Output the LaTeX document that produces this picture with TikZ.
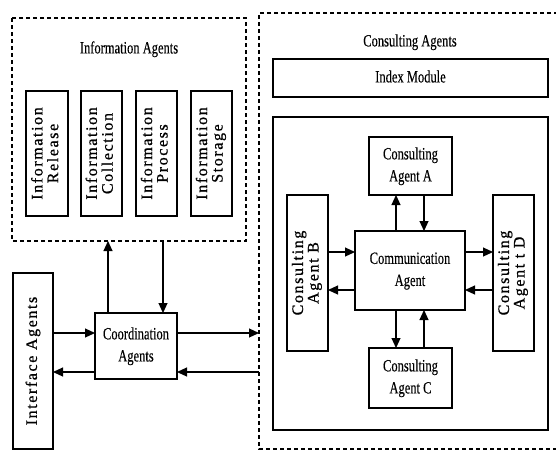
\documentclass[tikz,border=0pt]{standalone}
\usepackage{fontspec}
\setmainfont{Liberation Serif}
\usetikzlibrary{arrows.meta}
\newcommand\tl[1]{\scalebox{1}[1.38]{\begin{tabular}{@{}c@{}}#1\end{tabular}}}
\newcommand\rt[1]{\begin{tabular}{@{}c@{}}#1\end{tabular}}
\begin{document}
\begin{tikzpicture}[x=1pt,y=-1pt,
 box/.style={draw,line width=1.2pt,inner sep=0pt,outer sep=0pt},
 tall/.style={font=\fontsize{12.5}{16}\selectfont\addfontfeature{FakeBold=0.3},inner sep=0pt},
 sp/.style={font=\fontsize{16}{15.5}\selectfont\addfontfeature{LetterSpace=10,FakeBold=0.8},rotate=90,inner sep=0pt},
 arr/.style={line width=1.1pt,-{Triangle[length=10pt,width=9pt]}},
 dsh/.style={line width=1.2pt,dash pattern=on 4pt off 3pt}]
\useasboundingbox (0,0) rectangle (556,451);
% Information agents
\draw[dsh] (12,18) rectangle (246,241);
\coordinate (infoS) at (136,241);
\node[tall] (infoT) at (129,49) {\tl{Information Agents}};
\node[box,minimum width=42pt,minimum height=125pt] (rel) at (47,153.5) {};
\node[box,minimum width=41pt,minimum height=125pt] (col) at (101.5,153.5) {};
\node[box,minimum width=41pt,minimum height=125pt] (pro) at (156.5,153.5) {};
\node[box,minimum width=41pt,minimum height=125pt] (sto) at (211.5,153.5) {};
\node[sp] at (rel) {\rt{Information\\Release}};
\node[sp] at (col) {\rt{Information\\Collection}};
\node[sp] at (pro) {\rt{Information\\Process}};
\node[sp] at (sto) {\rt{Information\\Storage}};
% Consulting agents
\draw[dsh] (558,13) -- (259,13) -- (259,449) -- (558,449);
\coordinate (consW) at (259,360);
\node[tall] (consT) at (410,42) {\tl{Consulting Agents}};
\node[box,minimum width=275pt,minimum height=38pt] (idx) at (410.5,78) {};
\node[tall] at (idx) {\tl{Index Module}};
\node[box,minimum width=275pt,minimum height=313pt] (big) at (410.5,273.5) {};
\node[box,minimum width=83pt,minimum height=58pt] (A) at (410.5,166) {};
\node[tall] at (A) {\tl{Consulting\\Agent A}};
\node[box,minimum width=83pt,minimum height=60pt] (C) at (410.5,378) {};
\node[tall] at (C) {\tl{Consulting\\Agent C}};
\node[box,minimum width=110pt,minimum height=79pt] (comm) at (410,270.5) {};
\node[tall] at (comm) {\tl{Communication\\Agent}};
\node[box,minimum width=41pt,minimum height=156pt] (B) at (307.5,273) {};
\node[sp] at (B) {\rt{Consulting\\Agent B}};
\node[box,minimum width=41pt,minimum height=156pt] (D) at (513.5,273) {};
\node[sp] at (D) {\rt{Consulting\\Agent t D}};
% Interface and coordination
\node[box,minimum width=40pt,minimum height=176pt] (intf) at (33,361) {};
\node[sp] at (intf) {Interface Agents};
\node[box,minimum width=82pt,minimum height=66pt] (coord) at (136,346) {};
\node[tall] at (coord) {\tl{Coordination\\Agents}};
% arrows inside consulting
\draw[arr] (comm.north -| 396,0) -- (A.south -| 396,0);
\draw[arr] (A.south -| 424,0) -- (comm.north -| 424,0);
\draw[arr] (comm.south -| 396,0) -- (C.north -| 396,0);
\draw[arr] (C.north -| 424,0) -- (comm.south -| 424,0);
\draw[arr] (B.east |- 0,252) -- (comm.west |- 0,252);
\draw[arr] (comm.west |- 0,290) -- (B.east |- 0,290);
\draw[arr] (comm.east |- 0,252) -- (D.west |- 0,252);
\draw[arr] (D.west |- 0,290) -- (comm.east |- 0,290);
% arrows outside
\draw[arr] (intf.east |- 0,333) -- (coord.west |- 0,333);
\draw[arr] (coord.west |- 0,372) -- (intf.east |- 0,372);
\draw[arr] (coord.east |- 0,333) -- (consW |- 0,333);
\draw[arr] (consW |- 0,372) -- (coord.east |- 0,372);
\draw[arr] (coord.north -| 108,0) -- (infoS -| 108,0);
\draw[arr] (infoS -| 163,0) -- (coord.north -| 163,0);
\end{tikzpicture}
\end{document}
